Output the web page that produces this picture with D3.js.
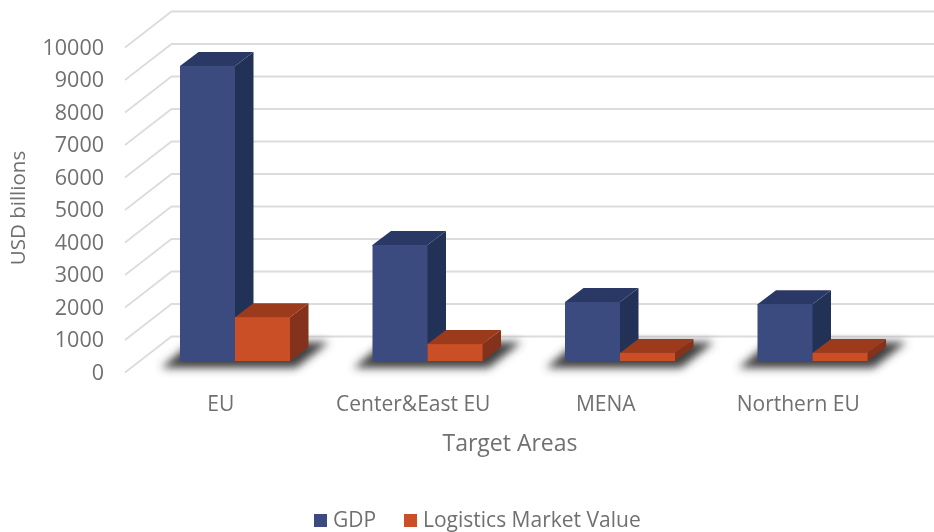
<!DOCTYPE html>
<html><head><meta charset="utf-8">
<script src="https://cdnjs.cloudflare.com/ajax/libs/d3/7.8.5/d3.min.js"></script>
<style>html,body{margin:0;padding:0;background:#fff}svg{display:block}text{font-family:"Open Sans",sans-serif;fill:#707070}</style>
</head><body><svg id="c" width="934" height="532"></svg>
<script>
const categories = ["EU","Center&East EU","MENA","Northern EU"];
const gdp = [9080,3570,1815,1750];
const logistics = [1350,520,250,250];
const yTicks = [0,1000,2000,3000,4000,5000,6000,7000,8000,9000,10000];
const seriesNames = ["GDP","Logistics Market Value"];
const seriesColors = ["#3a4c80","#cb4f26"];
const seriesTop = ["#2b3965","#9b3a1c"];
const seriesSide = ["#243156","#84321a"];

const svg = d3.select("#c");
const defs = svg.append("defs");
defs.append("filter").attr("id","shadow").attr("x","-30%").attr("y","-60%").attr("width","160%").attr("height","220%")
  .append("feGaussianBlur").attr("stdDeviation",4.5);
defs.append("filter").attr("id","soft").attr("x","-5%").attr("y","-5%").attr("width","110%").attr("height","110%")
  .append("feGaussianBlur").attr("stdDeviation",0.45);

const root = svg.append("g").attr("filter","url(#soft)");
const depthX = 46.5, depthY = 36;
const barDX = 18.5, barDY = 14;

const yFront = d3.scaleLinear().domain([0,10000]).range([372.5,47.5]);
const yBar = d3.scaleLinear().domain([0,10000]).range([361,36]);
const xBand = d3.scaleBand().domain(categories).range([125.5,895.5]);
const xSeries = d3.scaleBand().domain(seriesNames).range([0,110]);
const xOffset = 54.5;

const grid = root.append("g");
grid.selectAll("path").data(yTicks).join("path")
  .attr("fill","none").attr("stroke","#dcdcdc").attr("stroke-width",1.8)
  .attr("d",d=>`M125,${yFront(d)}L${125+depthX},${yFront(d)-depthY}H934`);

const axis = d3.axisLeft(yFront).tickValues(yTicks).tickSize(0).tickPadding(0).tickFormat(d3.format("d"));
const ag = root.append("g").attr("transform","translate(104,0)").call(axis);
ag.select(".domain").remove();
ag.selectAll("text").style("font-size","21.5px");

const groups = root.selectAll("g.cat").data(categories).join("g").attr("class","cat")
  .attr("transform",c=>`translate(${xBand(c)+xOffset},0)`);

groups.append("path").attr("filter","url(#shadow)").attr("fill","#404040")
  .attr("d",()=>{
    const w=xSeries.bandwidth()*2, b=yBar(0);
    return `M-19,${b+7}H${w+6}L${w+39},${b-19}H${12}Z`;
  });

const values = [gdp,logistics];
seriesNames.forEach((s,si)=>{
  groups.each(function(c,ci){
    const g=d3.select(this), v=values[si][ci];
    const x0=xSeries(s), w=xSeries.bandwidth(), y0=yBar(0), y1=yBar(v);
    g.append("path").attr("fill",seriesSide[si])
      .attr("d",`M${x0+w-1},${y1}L${x0+w},${y1}l${barDX},${-barDY}V${y0-barDY}l${-barDX},${barDY}H${x0+w-1}Z`);
    g.append("path").attr("fill",seriesTop[si])
      .attr("d",`M${x0},${y1+1}V${y1}l${barDX},${-barDY}h${w}l${-barDX},${barDY}V${y1+1}Z`);
    g.append("rect").attr("fill",seriesColors[si]).attr("x",x0).attr("y",y1).attr("width",w).attr("height",y0-y1);
  });
});

root.selectAll("text.catlab").data(categories).join("text").attr("class","catlab")
  .attr("x",c=>xBand(c)+xBand.bandwidth()/2-1).attr("y",411).attr("text-anchor","middle")
  .style("font-size","21px").text(c=>c);

root.append("text").attr("x",510).attr("y",451).attr("text-anchor","middle").style("font-size","23px").text("Target Areas");
root.append("text").attr("transform","translate(25,208) rotate(-90)").attr("text-anchor","middle").style("font-size","20.5px").text("USD billions");

const legendX = [314,404];
const lg = root.selectAll("g.lg").data(seriesNames).join("g").attr("class","lg")
  .attr("transform",(d,i)=>`translate(${legendX[i]},514)`);
lg.append("rect").attr("width",13).attr("height",13).attr("fill",(d,i)=>seriesColors[i]);
lg.append("text").attr("x",19).attr("y",13).style("font-size","21px").text(d=>d);
</script></body></html>
